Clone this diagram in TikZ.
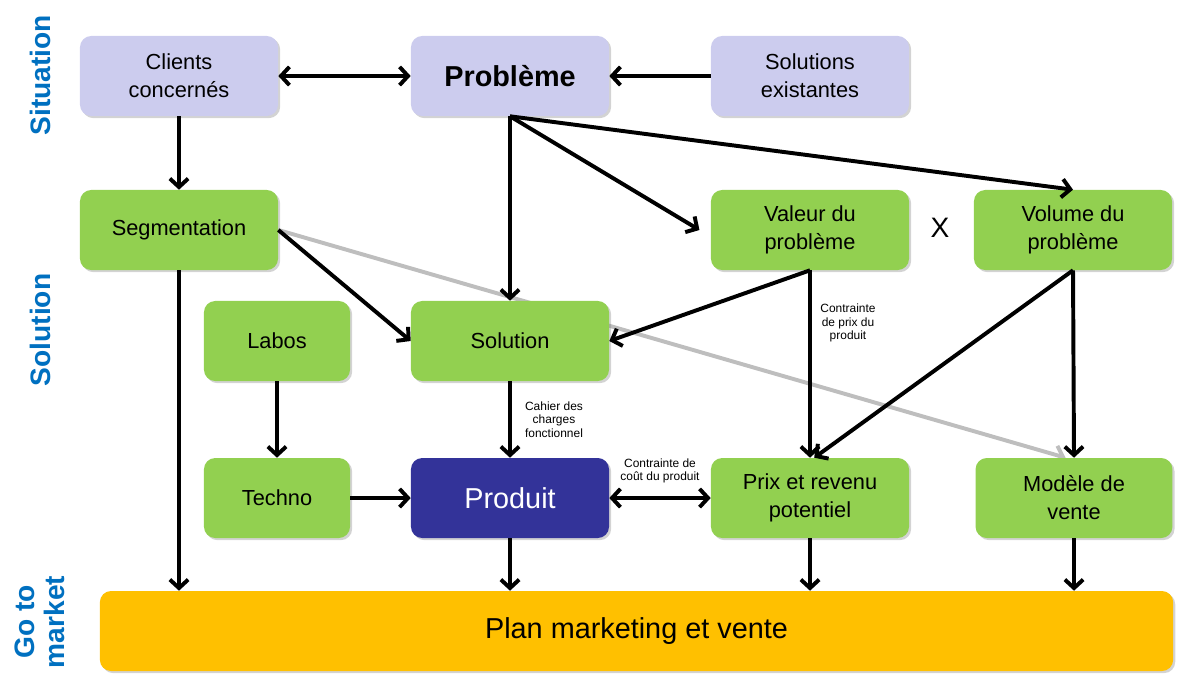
\documentclass[tikz,border=0pt]{standalone}
\usepackage{fontspec}
\setmainfont{Liberation Sans}
\usetikzlibrary{arrows.meta,shadows,backgrounds}
\definecolor{lavande}{RGB}{204,204,238}
\definecolor{vert}{RGB}{146,208,80}
\definecolor{bleunuit}{RGB}{51,51,153}
\definecolor{orange}{RGB}{255,192,0}
\definecolor{bleutitre}{RGB}{0,112,192}
\definecolor{gristrait}{RGB}{190,190,190}
\begin{document}
\begin{tikzpicture}[x=0.025cm,y=-0.025cm]
			\tikzstyle{boite}=[rounded corners=8pt, minimum width=4.95cm, minimum height=2cm, align=center, font=\fontsize{15.5}{20}\selectfont, drop shadow={shadow xshift=1.5pt, shadow yshift=-1.5pt, opacity=0.35}]
			\tikzstyle{situ}=[boite, fill=lavande]
			\tikzstyle{sol}=[boite, fill=vert]
			\tikzstyle{titre}=[rotate=90, align=center, text=bleutitre, font=\bfseries\fontsize{20}{20}\selectfont]
			\tikzstyle{fleche}=[line width=2.8pt, -{Straight Barb[length=6pt,width=13pt]}]
			\tikzstyle{note}=[align=center, font=\fontsize{8.5}{9.5}\selectfont]
			\useasboundingbox (0,0) rectangle (1187,679);
			% situation
			\node [situ] (clients) at (179,76) {Clients\\concern\'es};
			\node [situ, font=\bfseries\fontsize{20.5}{22}\selectfont] (probleme) at (510,76) {Probl\`eme};
			\node [situ] (existantes) at (810,76) {Solutions\\existantes};
			% solution
			\node [sol] (segmentation) at (179,230) {Segmentation};
			\node [sol] (valeur) at (810,230) {Valeur du\\probl\`eme};
			\node [font=\fontsize{20}{20}\selectfont] (fois) at (940,228) {X};
			\node [sol] (volume) at (1073,230) {Volume du\\probl\`eme};
			\node [sol, minimum width=3.65cm] (labos) at (277,341) {Labos};
			\node [sol] (solution) at (510,341) {Solution};
			\node [sol, minimum width=3.65cm] (techno) at (277,498) {Techno};
			\node [boite, fill=bleunuit, text=white, font=\fontsize{20.5}{22}\selectfont] (produit) at (510,498) {Produit};
			\node [sol] (prix) at (810,498) {Prix et revenu\\potentiel};
			\node [sol, minimum width=4.92cm] (modele) at (1074,498) {Mod\`ele de\\vente};
			% go to market
			\node [boite, fill=orange, minimum width=26.825cm, font=\fontsize{20.5}{22}\selectfont] (plan) at (636.5,631) {Plan marketing et vente};
			\node [titre] (lsituation) at (40,75) {Situation};
			\node [titre] (lsolution) at (40,330) {Solution};
			\node [titre, font=\bfseries\fontsize{20}{21}\selectfont] (lmarket) at (40,622) {Go to\\market};
			% connecteurs
			\begin{pgfonlayer}{background}
			\draw [fleche, gristrait] (segmentation.east) -- ([xshift=-6pt]modele.north);
			\end{pgfonlayer}
			\draw [fleche, {Straight Barb[length=6pt,width=13pt]}-{Straight Barb[length=6pt,width=13pt]}] (clients) -- (probleme);
			\draw [fleche] (existantes) -- (probleme);
			\draw [fleche] (clients) -- (segmentation);
			\draw [fleche] (probleme.south) -- (solution.north);
			\draw [fleche] (probleme.south) -- ([xshift=-8pt]valeur.west);
			\draw [fleche] (probleme.south) -- (volume.north);
			\draw [fleche] (segmentation.east) -- (solution.west);
			\draw [fleche] (segmentation.south) -- (plan.north -| segmentation.south);
			\draw [fleche] (valeur.south) -- (solution.east);
			\draw [fleche] (valeur.south) -- (prix.north);
			\draw [fleche] (volume.south) -- ([xshift=3pt]prix.north);
			\draw [fleche] (volume.south) -- (modele.north);
			\draw [fleche] (labos) -- (techno);
			\draw [fleche] (techno) -- (produit);
			\draw [fleche] (solution) -- (produit) node [note, midway, right=6pt] {Cahier des\\charges\\fonctionnel};
			\draw [fleche, {Straight Barb[length=6pt,width=13pt]}-{Straight Barb[length=6pt,width=13pt]}] (produit) -- (prix) node [note, midway, above=6pt] {Contrainte de\\co\^ut du produit};
			\node [note] (lprix) at (848,323) {Contrainte\\de prix du\\produit};
			\draw [fleche] (produit) -- (produit |- plan.north);
			\draw [fleche] (prix) -- (prix |- plan.north);
			\draw [fleche] (modele) -- (modele |- plan.north);
		\end{tikzpicture}
\end{document}
